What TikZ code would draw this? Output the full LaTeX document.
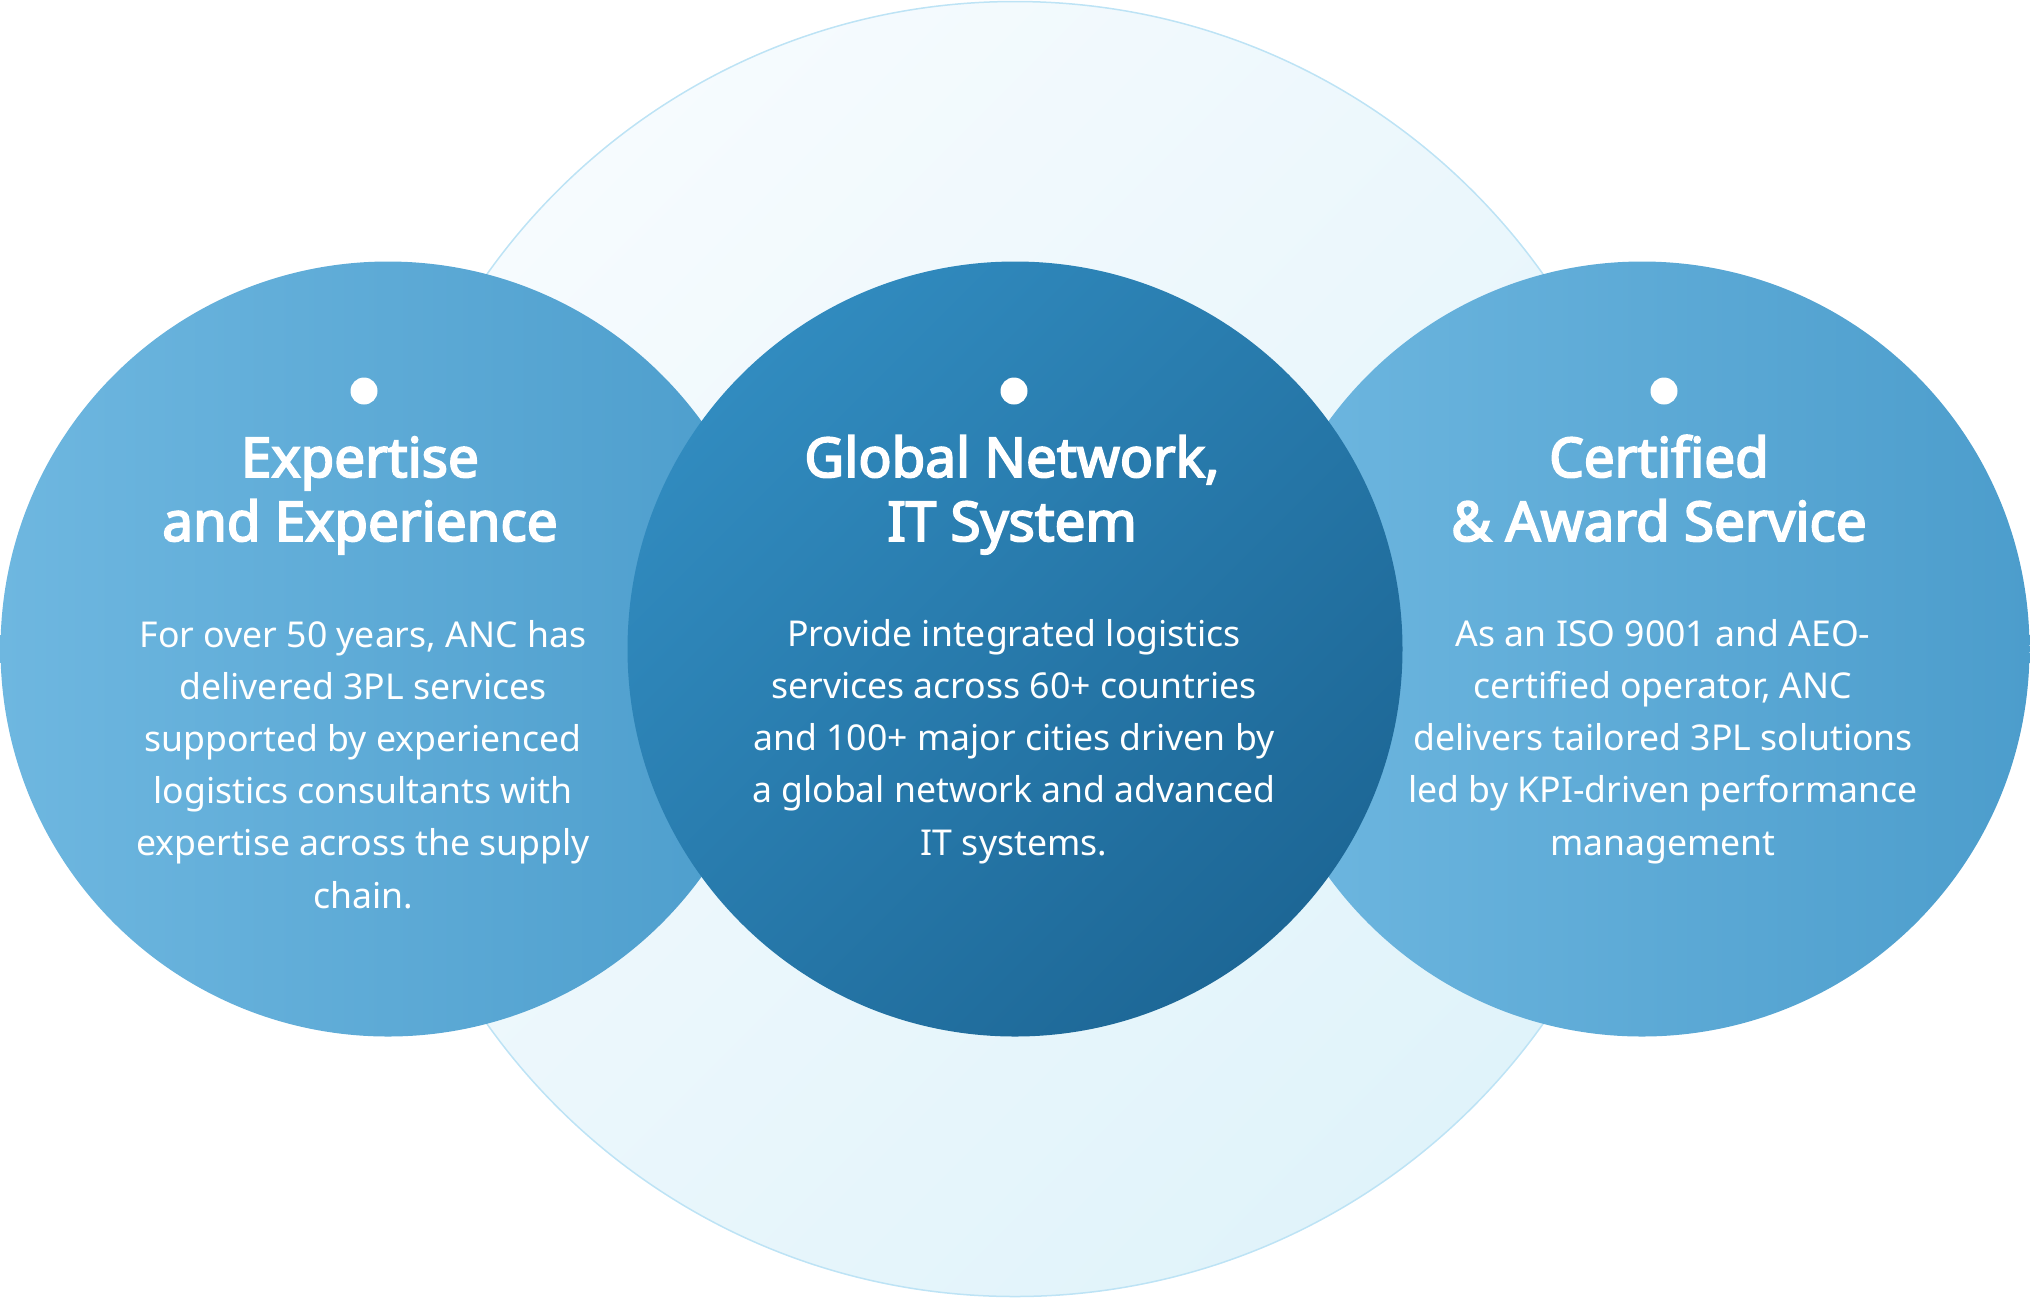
\documentclass[tikz,border=0pt]{standalone}
\usepackage{xcolor}
\usepackage{fontspec}
\setmainfont{Noto Sans}
\newfontfamily\titlefont{Noto Sans}[FakeBold=3.4]
\usepackage{tikz}
\definecolor{backTop}{HTML}{F6FBFE}
\definecolor{backBot}{HTML}{E0F3FA}
\definecolor{backLine}{HTML}{BDE3F5}
\definecolor{sideLeft}{HTML}{6EB7E0}
\definecolor{sideRight}{HTML}{4C9DCC}
\definecolor{midTop}{HTML}{318BBF}
\definecolor{midBot}{HTML}{1D6796}
\tikzset{
	big circle/.style={circle,draw=backLine,line width=0.75pt,minimum size=647.5pt,inner sep=0pt,
		top color=backTop,bottom color=backBot,shading angle=45},
	side circle/.style={circle,minimum size=387.5pt,inner sep=0pt,left color=sideLeft,right color=sideRight},
	mid circle/.style={circle,minimum size=387.5pt,inner sep=0pt,top color=midTop,bottom color=midBot,shading angle=45},
	dot node/.style={circle,fill=white,minimum size=13.5pt,inner sep=0pt},
	% anchor base = baseline of the last line
	title node/.style={align=center,text=white,anchor=base,inner sep=0pt,
		font=\titlefont\fontsize{27.4pt}{32pt}\selectfont},
	body node/.style={align=center,text=white,anchor=base,inner sep=0pt,
		font=\fontsize{17.8pt}{26.1pt}\selectfont}
}

\begin{document}
\begin{tikzpicture}[x=0.5pt,y=-0.5pt]
	\useasboundingbox (0,0) rectangle (2030,1298);
	\node [big circle] (back) at (1015,649) {};
	\node [side circle] (left) at (388,649) {};
	\node [side circle] (right) at (1642,649) {};
	\node [mid circle] (mid) at (1015,649) {};
	% dots over the titles
	\node [dot node] (ldot) at (364,391) {};
	\node [dot node] (mdot) at (1014,391) {};
	\node [dot node] (rdot) at (1664,391) {};
	% left
	\node [title node] (ltitle) at (360,541) {Expertise\\and Experience};
	\node [body node] (lbody) at (363,908) {For over 50 years, ANC has\\delivered 3PL services\\supported by experienced\\logistics consultants with\\expertise across the supply\\chain.};
	% middle
	\node [title node] (mtitle) at (1012,541) {Global Network,\\IT System};
	\node [body node] (mbody) at (1014,855) {Provide integrated logistics\\services across 60+ countries\\and 100+ major cities driven by\\a global network and advanced\\IT systems.};
	% right
	\node [title node] (rtitle) at (1659,541) {Certified\\\& Award Service};
	\node [body node] (rbody) at (1663,855) {As an ISO 9001 and AEO-\\certified operator, ANC\\delivers tailored 3PL solutions\\led by KPI-driven performance\\management};
\end{tikzpicture}
\end{document}
